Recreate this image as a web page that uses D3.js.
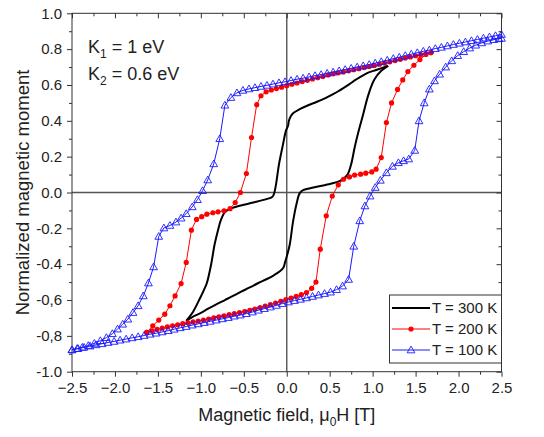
<!DOCTYPE html>
<html><head><meta charset="utf-8">
<script src="https://cdn.jsdelivr.net/npm/d3@7"></script>
<style>body{margin:0;background:#fff}svg{display:block}text{font-family:"Liberation Sans",Arial,sans-serif;fill:#222}</style>
</head><body>
<svg id="c" width="544" height="437"></svg>
<script>
// ---------- data ----------
const seriesNames = ["T = 300 K", "T = 200 K", "T = 100 K"];
const xMajor = [-2.5,-2.0,-1.5,-1.0,-0.5,0.0,0.5,1.0,1.5,2.0,2.5];
const xMinor = [-2.25,-1.75,-1.25,-0.75,-0.25,0.25,0.75,1.25,1.75,2.25];
const yMajor = [-1.0,-0.8,-0.6,-0.4,-0.2,0.0,0.2,0.4,0.6,0.8,1.0];
const yMinor = [-0.9,-0.7,-0.5,-0.3,-0.1,0.1,0.3,0.5,0.7,0.9];
const yLabels = ["-1.0","-0,8","-0,6","-0.4","-0.2","0.0","0.2","0.4","0.6","0.8","1.0"];

// T = 300 K (descending, ascending branches)
const blackDown = [[1.18,0.707],[1.05,0.685],[0.93,0.665],[0.80,0.628],[0.73,0.605],[0.60,0.565],[0.54,0.549],[0.45,0.527],[0.345,0.505],[0.25,0.487],[0.15,0.465],[0.08,0.445],[0.05,0.428],[0.025,0.40],[0.015,0.372],[-0.01,0.344],[-0.043,0.27],[-0.09,0.158],[-0.128,0.037],[-0.15,-0.01],[-0.17,-0.025],[-0.237,-0.037],[-0.39,-0.056],[-0.547,-0.074],[-0.66,-0.09],[-0.72,-0.11],[-0.77,-0.158],[-0.80,-0.21],[-0.84,-0.29],[-0.88,-0.40],[-0.93,-0.505],[-0.97,-0.55],[-1.01,-0.59],[-1.09,-0.665],[-1.17,-0.716]];
const blackUp = [[-1.17,-0.716],[-1.10,-0.695],[-1.01,-0.675],[-0.92,-0.65],[-0.82,-0.624],[-0.72,-0.60],[-0.625,-0.577],[-0.53,-0.553],[-0.43,-0.53],[-0.33,-0.505],[-0.237,-0.484],[-0.15,-0.462],[-0.08,-0.44],[-0.04,-0.42],[-0.02,-0.39],[0.004,-0.35],[0.035,-0.29],[0.074,-0.16],[0.113,-0.065],[0.15,-0.005],[0.19,0.013],[0.31,0.028],[0.46,0.043],[0.62,0.065],[0.68,0.085],[0.71,0.102],[0.75,0.158],[0.79,0.25],[0.83,0.33],[0.89,0.437],[0.95,0.545],[1.02,0.63],[1.10,0.679],[1.18,0.707]];

// T = 200 K
const redDown = [[1.68,0.781],[1.62,0.775],[1.56,0.769],[1.50,0.763],[1.44,0.756],[1.38,0.750],[1.32,0.743],[1.26,0.736],[1.20,0.729],[1.14,0.722],[1.08,0.716],[1.02,0.709],[0.96,0.703],[0.90,0.697],[0.84,0.691],[0.78,0.685],[0.72,0.679],[0.66,0.673],[0.60,0.668],[0.54,0.662],[0.48,0.656],[0.42,0.648],[0.36,0.641],[0.30,0.634],[0.24,0.626],[0.18,0.619],[0.12,0.611],[0.06,0.604],[0.00,0.596],[-0.06,0.588],[-0.12,0.580],[-0.18,0.572],[-0.24,0.562],[-0.30,0.540],[-0.35,0.490],[-0.41,0.307],[-0.47,0.106],[-0.54,0.0],[-0.60,-0.056],[-0.66,-0.090],[-0.73,-0.102],[-0.80,-0.108],[-0.86,-0.113],[-0.93,-0.121],[-0.99,-0.135],[-1.05,-0.150],[-1.11,-0.210],[-1.17,-0.390],[-1.23,-0.508],[-1.30,-0.577],[-1.36,-0.632],[-1.42,-0.679],[-1.49,-0.712],[-1.56,-0.744],[-1.63,-0.781]];
const redUp = [[-1.63,-0.781],[-1.57,-0.772],[-1.51,-0.764],[-1.45,-0.757],[-1.39,-0.750],[-1.33,-0.744],[-1.27,-0.738],[-1.21,-0.732],[-1.15,-0.727],[-1.09,-0.722],[-1.03,-0.717],[-0.97,-0.712],[-0.91,-0.706],[-0.85,-0.700],[-0.79,-0.694],[-0.73,-0.688],[-0.67,-0.682],[-0.61,-0.676],[-0.55,-0.670],[-0.49,-0.664],[-0.43,-0.657],[-0.37,-0.650],[-0.31,-0.642],[-0.25,-0.634],[-0.19,-0.626],[-0.13,-0.617],[-0.07,-0.607],[-0.01,-0.597],[0.05,-0.589],[0.11,-0.580],[0.17,-0.570],[0.23,-0.558],[0.29,-0.535],[0.34,-0.500],[0.39,-0.316],[0.46,-0.130],[0.53,-0.020],[0.60,0.043],[0.66,0.074],[0.73,0.087],[0.79,0.097],[0.86,0.102],[0.92,0.108],[0.99,0.115],[1.04,0.130],[1.10,0.195],[1.16,0.390],[1.22,0.500],[1.29,0.575],[1.35,0.628],[1.41,0.675],[1.48,0.710],[1.55,0.742],[1.62,0.770],[1.68,0.781]];

// T = 100 K
const blueDown = [[2.50,0.882],[2.43,0.875],[2.36,0.868],[2.29,0.861],[2.22,0.854],[2.15,0.847],[2.08,0.840],[2.01,0.833],[1.94,0.826],[1.87,0.818],[1.80,0.810],[1.73,0.803],[1.66,0.795],[1.59,0.788],[1.52,0.780],[1.45,0.772],[1.38,0.764],[1.31,0.755],[1.24,0.747],[1.17,0.738],[1.10,0.730],[1.03,0.722],[0.96,0.714],[0.89,0.707],[0.82,0.700],[0.75,0.693],[0.68,0.686],[0.61,0.679],[0.54,0.672],[0.47,0.665],[0.40,0.658],[0.33,0.652],[0.26,0.645],[0.19,0.638],[0.12,0.632],[0.05,0.625],[-0.02,0.618],[-0.09,0.612],[-0.16,0.605],[-0.23,0.598],[-0.30,0.592],[-0.37,0.585],[-0.44,0.578],[-0.51,0.570],[-0.58,0.556],[-0.65,0.530],[-0.72,0.487],[-0.78,0.300],[-0.85,0.160],[-0.92,0.070],[-0.98,0.010],[-1.04,-0.040],[-1.10,-0.080],[-1.17,-0.118],[-1.23,-0.143],[-1.29,-0.165],[-1.36,-0.184],[-1.43,-0.198],[-1.49,-0.245],[-1.55,-0.415],[-1.61,-0.505],[-1.67,-0.577],[-1.73,-0.632],[-1.79,-0.670],[-1.85,-0.707],[-1.91,-0.735],[-1.97,-0.762],[-2.03,-0.788],[-2.10,-0.810],[-2.17,-0.827],[-2.24,-0.842],[-2.31,-0.854],[-2.38,-0.864],[-2.44,-0.871],[-2.50,-0.878]];
const blueUp = [[-2.50,-0.878],[-2.43,-0.871],[-2.36,-0.864],[-2.29,-0.857],[-2.22,-0.850],[-2.15,-0.844],[-2.08,-0.837],[-2.01,-0.831],[-1.94,-0.824],[-1.87,-0.818],[-1.80,-0.811],[-1.73,-0.805],[-1.66,-0.798],[-1.59,-0.791],[-1.52,-0.785],[-1.45,-0.778],[-1.38,-0.771],[-1.31,-0.763],[-1.24,-0.755],[-1.17,-0.748],[-1.10,-0.740],[-1.03,-0.733],[-0.96,-0.726],[-0.89,-0.719],[-0.82,-0.712],[-0.75,-0.705],[-0.68,-0.698],[-0.61,-0.690],[-0.54,-0.684],[-0.47,-0.676],[-0.40,-0.667],[-0.33,-0.657],[-0.26,-0.648],[-0.19,-0.639],[-0.12,-0.630],[-0.05,-0.620],[0.02,-0.611],[0.09,-0.603],[0.16,-0.596],[0.23,-0.588],[0.30,-0.580],[0.37,-0.572],[0.44,-0.564],[0.51,-0.556],[0.58,-0.542],[0.65,-0.522],[0.72,-0.485],[0.78,-0.300],[0.85,-0.158],[0.91,-0.075],[0.97,-0.020],[1.03,0.028],[1.09,0.068],[1.16,0.110],[1.23,0.146],[1.30,0.166],[1.36,0.177],[1.42,0.187],[1.49,0.235],[1.54,0.400],[1.60,0.500],[1.66,0.577],[1.72,0.623],[1.78,0.660],[1.85,0.700],[1.92,0.735],[1.99,0.764],[2.06,0.786],[2.13,0.806],[2.20,0.822],[2.27,0.835],[2.34,0.845],[2.41,0.853],[2.47,0.858],[2.50,0.860]];

const annotations = ["K", "1", " = 1 eV", "K", "2", " = 0.6 eV"];

// ---------- drawing ----------
const svg = d3.select("#c");
const L = 72, R = 501.5, T = 13.3, B = 371.7;
const x = d3.scaleLinear().domain([-2.5, 2.5]).range([L, R]);
const y = d3.scaleLinear().domain([-1, 1]).range([B, T]);
const axisColor = "#333";

function styleAxis(g){ g.select(".domain").remove(); g.selectAll("line").attr("stroke", axisColor).attr("stroke-width", 1); g.selectAll("text").style("font-size","15px").attr("fill","#222"); }

// zero lines
svg.append("line").attr("x1", L).attr("x2", R).attr("y1", y(0)).attr("y2", y(0)).attr("stroke", "#555").attr("stroke-width", 1.4);
svg.append("line").attr("x1", x(0)).attr("x2", x(0)).attr("y1", T).attr("y2", B).attr("stroke", "#555").attr("stroke-width", 1.4);

// axes: bottom / left outward, top / right inward
svg.append("g").attr("transform", `translate(0,${B})`).call(d3.axisBottom(x).tickValues(xMajor).tickSize(5).tickPadding(6).tickFormat(d3.format(".1f"))).call(styleAxis);
svg.append("g").attr("transform", `translate(0,${B})`).call(d3.axisBottom(x).tickValues(xMinor).tickSize(3).tickFormat("")).call(styleAxis);
svg.append("g").attr("transform", `translate(${L},0)`).call(d3.axisLeft(y).tickValues(yMajor).tickSize(5).tickPadding(5).tickFormat((d,i)=>yLabels[i])).call(styleAxis);
svg.append("g").attr("transform", `translate(${L},0)`).call(d3.axisLeft(y).tickValues(yMinor).tickSize(3).tickFormat("")).call(styleAxis);
svg.append("g").attr("transform", `translate(0,${T})`).call(d3.axisTop(x).tickValues(xMajor).tickSize(-5).tickFormat("")).call(styleAxis);
svg.append("g").attr("transform", `translate(0,${T})`).call(d3.axisTop(x).tickValues(xMinor).tickSize(-3).tickFormat("")).call(styleAxis);
svg.append("g").attr("transform", `translate(${R},0)`).call(d3.axisRight(y).tickValues(yMajor).tickSize(-5).tickFormat("")).call(styleAxis);
svg.append("g").attr("transform", `translate(${R},0)`).call(d3.axisRight(y).tickValues(yMinor).tickSize(-3).tickFormat("")).call(styleAxis);

// frame
svg.append("rect").attr("x", L).attr("y", T).attr("width", R - L).attr("height", B - T).attr("fill", "none").attr("stroke", axisColor).attr("stroke-width", 1);

const lineSmooth = d3.line().x(d => x(d[0])).y(d => y(d[1])).curve(d3.curveCatmullRom.alpha(0.5));
const lineStraight = d3.line().x(d => x(d[0])).y(d => y(d[1]));

// T = 300 K
[blackDown, blackUp].forEach(s => svg.append("path").attr("d", lineSmooth(s)).attr("fill", "none").attr("stroke", "#000").attr("stroke-width", 2));

// T = 200 K
const red = "#ff0000";
[redDown, redUp].forEach(s => {
  svg.append("path").attr("d", lineStraight(s)).attr("fill", "none").attr("stroke", red).attr("stroke-width", 1);
  svg.append("g").selectAll("circle").data(s).join("circle").attr("cx", d => x(d[0])).attr("cy", d => y(d[1])).attr("r", 2.6).attr("fill", red);
});

// T = 100 K
const blue = "#1a1aff";
const tri = d3.symbol().type(d3.symbolTriangle).size(26);
[blueDown, blueUp].forEach(s => {
  svg.append("path").attr("d", lineStraight(s)).attr("fill", "none").attr("stroke", blue).attr("stroke-width", 1);
  svg.append("g").selectAll("path").data(s).join("path").attr("d", tri).attr("transform", d => `translate(${x(d[0])},${y(d[1]) + 0.6})`).attr("fill", "none").attr("stroke", blue).attr("stroke-width", 0.9);
});

// annotations
const ann = svg.append("g").style("font-size", "18px");
const t1 = ann.append("text").attr("x", 88).attr("y", 53);
t1.append("tspan").text(annotations[0]);
t1.append("tspan").attr("dy", 5).style("font-size", "12px").text(annotations[1]);
t1.append("tspan").attr("dy", -5).text(annotations[2]);
const t2 = ann.append("text").attr("x", 88).attr("y", 80);
t2.append("tspan").text(annotations[3]);
t2.append("tspan").attr("dy", 5).style("font-size", "12px").text(annotations[4]);
t2.append("tspan").attr("dy", -5).text(annotations[5]);

// axis titles
const xt = svg.append("text").attr("x", (L + R) / 2).attr("y", 421).attr("text-anchor", "middle").style("font-size", "18px");
xt.append("tspan").text("Magnetic field, \u03bc");
xt.append("tspan").attr("dy", 5).style("font-size", "12px").text("0");
xt.append("tspan").attr("dy", -5).text("H [T]");
svg.append("text").attr("transform", `translate(23,${(T + B) / 2}) rotate(-90)`).attr("text-anchor", "middle").attr("dy", "0.35em").style("font-size", "18.5px").text("Normalized magnetic moment");

// legend
const lg = svg.append("g");
lg.append("rect").attr("x", 389.5).attr("y", 295).attr("width", R - 389.5).attr("height", 68).attr("fill", "#fff").attr("stroke", axisColor).attr("stroke-width", 1);
const rows = [308, 329, 350];
const lx1 = 392, lx2 = 430;
lg.append("line").attr("x1", lx1).attr("x2", lx2).attr("y1", rows[0]).attr("y2", rows[0]).attr("stroke", "#000").attr("stroke-width", 2);
lg.append("line").attr("x1", lx1).attr("x2", lx2).attr("y1", rows[1]).attr("y2", rows[1]).attr("stroke", red).attr("stroke-width", 1);
lg.append("circle").attr("cx", (lx1 + lx2) / 2).attr("cy", rows[1]).attr("r", 2.6).attr("fill", red);
lg.append("line").attr("x1", lx1).attr("x2", lx2).attr("y1", rows[2]).attr("y2", rows[2]).attr("stroke", blue).attr("stroke-width", 1);
lg.append("path").attr("d", tri).attr("transform", `translate(${(lx1 + lx2) / 2},${rows[2] + 0.6})`).attr("fill", "none").attr("stroke", blue).attr("stroke-width", 0.9);
seriesNames.forEach((n, i) => lg.append("text").attr("x", 432).attr("y", rows[i]).attr("dy", "0.35em").style("font-size", "15px").text(n));
</script>
</body></html>
